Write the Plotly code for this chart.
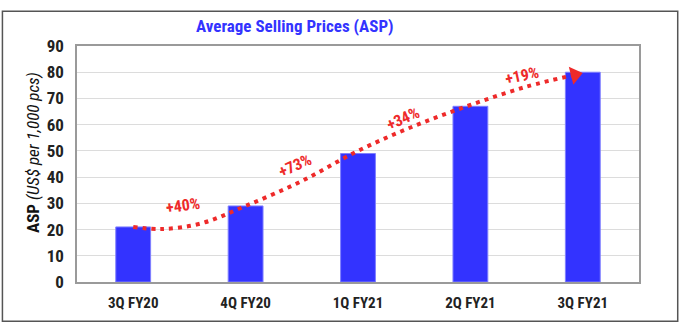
import plotly.graph_objects as go

categories = ["3Q FY20", "4Q FY20", "1Q FY21", "2Q FY21", "3Q FY21"]
asp_values = [21, 29, 49, 67, 80]

# hand-drawn trend arrow (category index, ASP value)
trend_x = [0.0, 0.25, 0.6, 1.0, 1.5, 2.0, 2.5, 3.0, 3.5, 3.93]
trend_y = [21.0, 20.2, 22.3, 29.0, 38.5, 50.0, 59.5, 67.5, 74.5, 79.0]

growth_labels = ["+40%", "+73%", "+34%", "+19%"]
growth_x = [0.44, 1.44, 2.40, 3.46]
growth_y = [29.0, 44.5, 62.4, 78.8]
growth_angle = [-8, -24, -24, -12]

FONT = "Liberation Sans Narrow, Arial Narrow, Roboto Condensed, Roboto, Arial, sans-serif"
BLUE = "#3333ff"
RED = "#ee2a2a"

fig = go.Figure()
fig.add_trace(go.Bar(
    x=list(range(len(categories))), y=asp_values, width=0.31,
    marker=dict(color=BLUE, line=dict(color="#7f7fff", width=1)),
    hoverinfo="skip", showlegend=False))

fig.add_trace(go.Scatter(
    x=trend_x, y=trend_y, mode="lines",
    line=dict(color=RED, width=4, shape="spline", smoothing=1.0, dash="4px,5px"),
    hoverinfo="skip", showlegend=False))
fig.add_trace(go.Scatter(
    x=[trend_x[-1]], y=[trend_y[-1]], mode="markers",
    marker=dict(symbol="triangle-right", size=16, color=RED, angle=-14),
    hoverinfo="skip", showlegend=False))

for t, gx, gy, ga in zip(growth_labels, growth_x, growth_y, growth_angle):
    fig.add_annotation(x=gx, y=gy, xref="x", yref="y", text="<b>%s</b>" % t,
                       showarrow=False, textangle=ga,
                       font=dict(family=FONT, size=16, color=RED))

fig.add_annotation(x=-0.1, y=0.55, xref="paper", yref="paper",
                   text="<b>ASP</b> <i>(US$ per 1,000 pcs)</i>", textangle=-90,
                   showarrow=False, font=dict(family=FONT, size=17, color="#111"))

fig.add_shape(type="rect", xref="paper", yref="paper",
              x0=-0.1327, x1=1.0689, y0=-0.1665, y1=1.147,
              line=dict(color="#555", width=1.5), fillcolor="rgba(0,0,0,0)")

fig.update_layout(
    width=684, height=328,
    margin=dict(l=77, r=45, t=46, b=46),
    paper_bgcolor="white", plot_bgcolor="white",
    title=dict(text="<b>Average Selling Prices (ASP)</b>", x=0.431, xref="container",
               xanchor="center", y=0.921, yref="container", yanchor="middle",
               font=dict(family=FONT, size=17, color=BLUE)),
    xaxis=dict(range=[-0.5, 4.5], tickvals=list(range(len(categories))), ticktext=categories,
               showgrid=False, zeroline=False, showline=True, mirror=True,
               linecolor="#9a9a9a", linewidth=1.5, ticks="outside", ticklen=6,
               tickcolor="rgba(0,0,0,0)",
               tickfont=dict(family=FONT, size=15, color="#222", weight="bold")),
    yaxis=dict(range=[0, 90], dtick=10, showgrid=True, gridcolor="#dcdcdc", gridwidth=1,
               zeroline=False, showline=True, mirror=True, linecolor="#9a9a9a", linewidth=1.5,
               ticks="outside", ticklen=8, tickcolor="rgba(0,0,0,0)",
               tickfont=dict(family=FONT, size=17, color="#222", weight="bold")),
    bargap=0.69,
)
fig.update_xaxes(automargin=False)
fig.update_yaxes(automargin=False)
fig.write_html("out.html")
